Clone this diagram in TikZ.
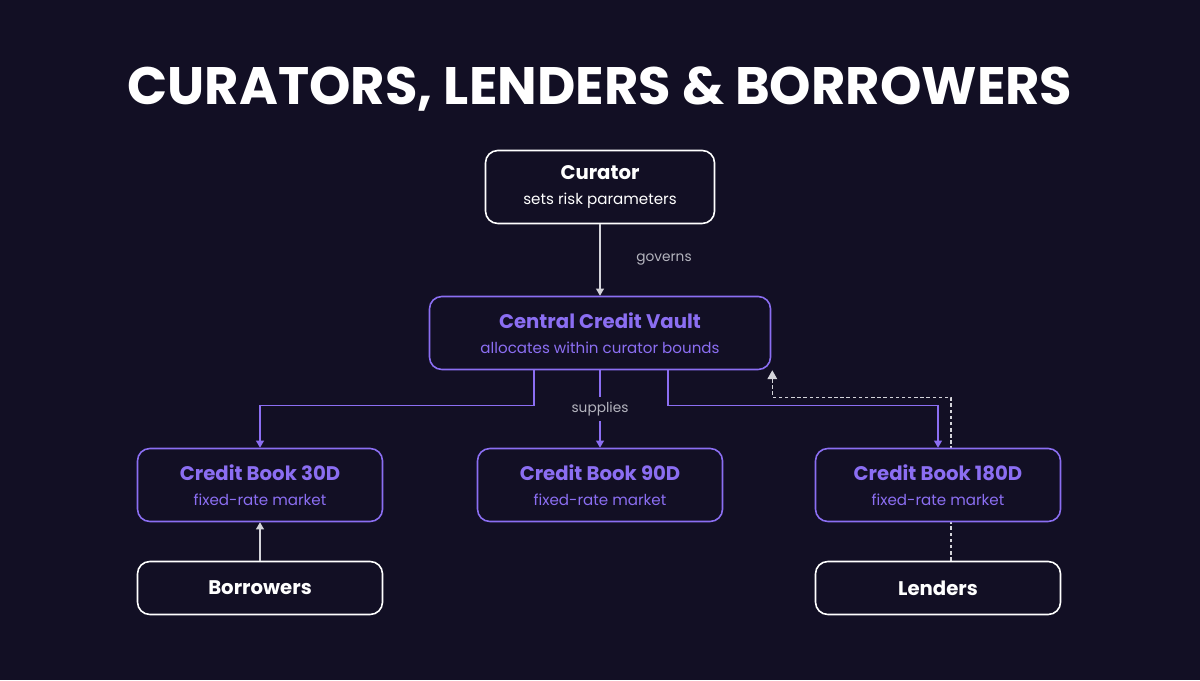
\documentclass[tikz,border=0pt]{standalone}
\usepackage{fontspec}
\setmainfont{Poppins}
\usetikzlibrary{positioning,arrows.meta,backgrounds}
\definecolor{bgnavy}{HTML}{120F24}
\definecolor{vio}{HTML}{8B6EF2}
\definecolor{edgegray}{HTML}{D4D4DA}
\definecolor{labelgray}{HTML}{B4B4BE}
\newcommand{\twoline}[2]{{\fontsize{11.2}{13}\selectfont\bfseries #1}\\[3pt]#2}
\tikzset{
  box/.style={draw=white,fill=bgnavy,text=white,rounded corners=7pt,line width=0.9pt,
    minimum width=4.9cm,minimum height=1.46cm,align=center,font=\fontsize{8.6}{11}\selectfont},
  vbox/.style={box,draw=vio,text=vio},
  feed/.style={draw=vio,line width=0.6pt,-{Triangle[width=4.5pt,length=4pt]}},
  wire/.style={draw=edgegray,line width=0.6pt,-{Triangle[width=4.5pt,length=4pt]}},
  lbl/.style={text=labelgray,font=\fontsize{7.8}{10}\selectfont}
}
\begin{document}
\begin{tikzpicture}
    \node[text=white,font=\fontsize{30}{34}\selectfont\bfseries] (title) at (12,11.82) {CURATORS, LENDERS \& BORROWERS};

    \node[box,minimum width=4.58cm] (cur) at (12,9.86) {\twoline{Curator}{sets risk parameters}};
    \node[vbox,minimum width=6.82cm] (vault) [below of=cur,node distance=2.92cm] {\twoline{Central Credit Vault}{allocates within curator bounds}};
    \node[vbox] (b90) [below of=vault,node distance=3.04cm] {\twoline{Credit Book 90D}{fixed-rate market}};
    \node[vbox] (b30) [left of=b90,node distance=6.8cm] {\twoline{Credit Book 30D}{fixed-rate market}};
    \node[vbox] (b180) [right of=b90,node distance=6.76cm] {\twoline{Credit Book 180D}{fixed-rate market}};

    \node[box,minimum height=1.06cm] (borr) [below of=b30,node distance=2.06cm] {{\fontsize{11.2}{13}\selectfont\bfseries Borrowers}};
    \node[box,minimum height=1.06cm] (lend) [below of=b180,node distance=2.06cm] {{\fontsize{11.2}{13}\selectfont\bfseries Lenders}};

    \draw[wire] (cur) -- node[lbl,right=0.6cm] {governs} (vault);
    \draw[feed] ([xshift=-1.32cm]vault.south) -- ++(0,-0.7) -| (b30);
    \draw[feed] (vault) -- node[lbl,fill=bgnavy,inner sep=3pt] {supplies} (b90);
    \draw[feed] ([xshift=1.36cm]vault.south) -- ++(0,-0.7) -| (b180);
    \draw[wire] (borr) -- (b30);

    \coordinate (vtip) at ([xshift=0.02cm]vault.south east);
    \begin{pgfonlayer}{background}
    \fill[bgnavy] (0,0) rectangle (24,13.6);
    \draw[wire,dashed,dash pattern=on 2pt off 1.5pt,-{Triangle[width=5.5pt,length=5pt]}] ([xshift=0.26cm]lend.north) |- ([yshift=-0.54cm]vtip) -- (vtip);
    \end{pgfonlayer}
\end{tikzpicture}
\end{document}
